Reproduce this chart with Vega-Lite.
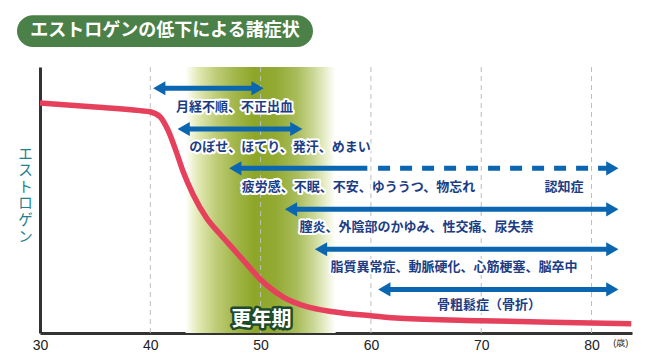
{
  "$schema": "https://vega.github.io/schema/vega-lite/v6.json",
  "width": 592,
  "height": 266,
  "autosize": {"type": "none"},
  "padding": {"left": 40, "top": 67, "right": 27, "bottom": 23},
  "background": "white",
  "config": {"view": {"stroke": null}, "font": "Noto Sans CJK JP"},
  "datasets": {
    "band": [{"start": 43.2, "end": 56.8, "low": 0, "high": 100}],
    "grid": [{"age": 40}, {"age": 50}, {"age": 60}, {"age": 70}, {"age": 80}],
    "curve": [
      {"age": 30, "level": 86.5},
      {"age": 35, "level": 85.0},
      {"age": 39.07, "level": 83.6},
      {"age": 39.97, "level": 83.2},
      {"age": 40.88, "level": 81.3},
      {"age": 41.6, "level": 76.3},
      {"age": 42.39, "level": 67.7},
      {"age": 42.99, "level": 60.5},
      {"age": 43.9, "level": 51.9},
      {"age": 45.11, "level": 43.2},
      {"age": 46.32, "level": 37.2},
      {"age": 47.52, "level": 31.6},
      {"age": 48.74, "level": 25.9},
      {"age": 49.95, "level": 20.3},
      {"age": 50.55, "level": 18.0},
      {"age": 52.06, "level": 13.5},
      {"age": 54.18, "level": 9.9},
      {"age": 56.59, "level": 8.0},
      {"age": 60.19, "level": 6.4},
      {"age": 62.64, "level": 5.5},
      {"age": 70, "level": 4.6},
      {"age": 80, "level": 3.8},
      {"age": 83.6, "level": 3.5}
    ],
    "arrows": [
      {"from": 40.27, "to": 50.27, "level": 92.0},
      {"from": 42.48, "to": 53.78, "level": 76.7},
      {"from": 47.16, "to": 82.43, "level": 61.9},
      {"from": 52.21, "to": 82.43, "level": 46.5},
      {"from": 54.93, "to": 82.43, "level": 31.5},
      {"from": 60.67, "to": 82.43, "level": 16.4}
    ],
    "solid": [
      {"from": 40.27, "to": 50.27, "level": 92.0},
      {"from": 42.48, "to": 53.78, "level": 76.7},
      {"from": 47.16, "to": 60.22, "level": 61.9},
      {"from": 52.21, "to": 82.43, "level": 46.5},
      {"from": 54.93, "to": 82.43, "level": 31.5},
      {"from": 60.67, "to": 82.43, "level": 16.4}
    ],
    "dashed": [{"from": 60.65, "to": 82.43, "level": 61.9}],
    "labels": [
      {"text": "月経不順、不正出血", "age": 47.63, "level": 85.1},
      {"text": "のぼせ、ほてり、発汗、めまい", "age": 51.76, "level": 70.0},
      {"text": "疲労感、不眠、不安、ゆううつ、物忘れ", "age": 58.88, "level": 55.0},
      {"text": "認知症", "age": 77.5, "level": 55.0},
      {"text": "膣炎、外陰部のかゆみ、性交痛、尿失禁", "age": 64.13, "level": 40.0},
      {"text": "脂質異常症、動脈硬化、心筋梗塞、脳卒中", "age": 67.53, "level": 24.9},
      {"text": "骨粗鬆症（骨折）", "age": 70.7, "level": 10.5}
    ],
    "period": [{"text": "更年期", "age": 50.08, "level": 5.0}],
    "badge": [{"text": "エストロゲンの低下による諸症状", "from": 27.91, "to": 54.75, "low": 107.5, "high": 119.5, "mid": 41.33, "center": 113.5}]
  },
  "layer": [
    {
      "data": {"name": "band"},
      "mark": {
        "type": "rect",
        "color": {
          "gradient": "linear", "x1": 0, "x2": 1, "y1": 0, "y2": 0,
          "stops": [
            {"offset": 0, "color": "#ffffff"},
            {"offset": 0.08, "color": "#e3eab6"},
            {"offset": 0.2, "color": "#bfcd78"},
            {"offset": 0.33, "color": "#a2b64a"},
            {"offset": 0.46, "color": "#8da628"},
            {"offset": 0.6, "color": "#92aa33"},
            {"offset": 0.74, "color": "#a8bc5a"},
            {"offset": 0.86, "color": "#cdd999"},
            {"offset": 0.95, "color": "#eef3d8"},
            {"offset": 1, "color": "#ffffff"}
          ]
        }
      },
      "encoding": {
        "x": {"field": "start", "type": "quantitative", "scale": {"domain": [30, 83.67], "nice": false, "zero": false},
          "axis": {
            "values": [30, 40, 50, 60, 70, 80, 82.6],
            "labelExpr": "datum.value > 81 ? '(歳)' : datum.label",
            "labelFontSize": {"condition": {"test": "datum.value > 81", "value": 9}, "value": 14},
            "labelFont": "Liberation Sans",
            "labelColor": "#222222",
            "labelFlush": false,
            "labelPadding": 5,
            "ticks": false,
            "grid": false,
            "domainColor": "#333333",
            "domainWidth": 3,
            "title": null
          }},
        "x2": {"field": "end"},
        "y": {"field": "low", "type": "quantitative", "scale": {"domain": [0, 100], "nice": false, "zero": false},
          "axis": {
            "labels": false,
            "ticks": false,
            "grid": false,
            "domainColor": "#333333",
            "domainWidth": 3,
            "title": ["エ", "ス", "ト", "ロ", "ゲ", "ン"],
            "titleAngle": 0,
            "titleX": -15,
            "titleY": 87,
            "titleAlign": "center",
            "titleBaseline": "middle",
            "titleFontSize": 14.5,
            "titleFontWeight": "normal",
            "titleLineHeight": 16.6,
            "titleColor": "#22808a"
          }},
        "y2": {"field": "high"}
      }
    },
    {
      "data": {"name": "grid"},
      "mark": {"type": "rule", "color": "#bdbdbd", "strokeWidth": 1, "strokeDash": [5, 4]},
      "encoding": {
        "x": {"field": "age", "type": "quantitative", "scale": {"domain": [30, 83.67], "nice": false, "zero": false}}
      }
    },
    {
      "data": {"name": "curve"},
      "mark": {"type": "line", "color": "#e5415c", "strokeWidth": 5.5, "interpolate": "monotone"},
      "encoding": {
        "x": {"field": "age", "type": "quantitative", "scale": {"domain": [30, 83.67], "nice": false, "zero": false}},
        "y": {"field": "level", "type": "quantitative", "scale": {"domain": [0, 100], "nice": false, "zero": false}}
      }
    },
    {
      "data": {"name": "solid"},
      "mark": {"type": "rule", "color": "#0b66b2", "strokeWidth": 5, "xOffset": 6, "x2Offset": -6},
      "encoding": {
        "x": {"field": "from", "type": "quantitative", "scale": {"domain": [30, 83.67], "nice": false, "zero": false}},
        "x2": {"field": "to"},
        "y": {"field": "level", "type": "quantitative", "scale": {"domain": [0, 100], "nice": false, "zero": false}}
      }
    },
    {
      "data": {"name": "dashed"},
      "mark": {"type": "rule", "color": "#0b66b2", "strokeWidth": 5, "strokeDash": [12, 10], "x2Offset": -6},
      "encoding": {
        "x": {"field": "from", "type": "quantitative", "scale": {"domain": [30, 83.67], "nice": false, "zero": false}},
        "x2": {"field": "to"},
        "y": {"field": "level", "type": "quantitative", "scale": {"domain": [0, 100], "nice": false, "zero": false}}
      }
    },
    {
      "data": {"name": "arrows"},
      "mark": {"type": "point", "shape": "triangle-left", "filled": true, "size": 200, "color": "#0b66b2", "opacity": 1, "xOffset": 6},
      "encoding": {
        "x": {"field": "from", "type": "quantitative", "scale": {"domain": [30, 83.67], "nice": false, "zero": false}},
        "y": {"field": "level", "type": "quantitative", "scale": {"domain": [0, 100], "nice": false, "zero": false}}
      }
    },
    {
      "data": {"name": "arrows"},
      "mark": {"type": "point", "shape": "triangle-right", "filled": true, "size": 200, "color": "#0b66b2", "opacity": 1, "xOffset": -6},
      "encoding": {
        "x": {"field": "to", "type": "quantitative", "scale": {"domain": [30, 83.67], "nice": false, "zero": false}},
        "y": {"field": "level", "type": "quantitative", "scale": {"domain": [0, 100], "nice": false, "zero": false}}
      }
    },
    {
      "data": {"name": "labels"},
      "mark": {"type": "text", "fontSize": 13, "fontWeight": "bold", "color": "#1c3d84", "stroke": "white", "strokeWidth": 4, "strokeJoin": "round", "align": "center", "baseline": "middle"},
      "encoding": {
        "x": {"field": "age", "type": "quantitative", "scale": {"domain": [30, 83.67], "nice": false, "zero": false}},
        "y": {"field": "level", "type": "quantitative", "scale": {"domain": [0, 100], "nice": false, "zero": false}},
        "text": {"field": "text"}
      }
    },
    {
      "data": {"name": "labels"},
      "mark": {"type": "text", "fontSize": 13, "fontWeight": "bold", "color": "#1c3d84", "align": "center", "baseline": "middle"},
      "encoding": {
        "x": {"field": "age", "type": "quantitative", "scale": {"domain": [30, 83.67], "nice": false, "zero": false}},
        "y": {"field": "level", "type": "quantitative", "scale": {"domain": [0, 100], "nice": false, "zero": false}},
        "text": {"field": "text"}
      }
    },
    {
      "data": {"name": "period"},
      "mark": {"type": "text", "fontSize": 20, "fontWeight": "bold", "color": "#1d4b2b", "stroke": "#1d4b2b", "strokeWidth": 5, "strokeJoin": "round", "align": "center", "baseline": "middle"},
      "encoding": {
        "x": {"field": "age", "type": "quantitative", "scale": {"domain": [30, 83.67], "nice": false, "zero": false}},
        "y": {"field": "level", "type": "quantitative", "scale": {"domain": [0, 100], "nice": false, "zero": false}},
        "text": {"field": "text"}
      }
    },
    {
      "data": {"name": "period"},
      "mark": {"type": "text", "fontSize": 20, "fontWeight": "bold", "color": "white", "align": "center", "baseline": "middle"},
      "encoding": {
        "x": {"field": "age", "type": "quantitative", "scale": {"domain": [30, 83.67], "nice": false, "zero": false}},
        "y": {"field": "level", "type": "quantitative", "scale": {"domain": [0, 100], "nice": false, "zero": false}},
        "text": {"field": "text"}
      }
    },
    {
      "data": {"name": "badge"},
      "mark": {"type": "rect", "color": "#4b8048", "cornerRadius": 16},
      "encoding": {
        "x": {"field": "from", "type": "quantitative", "scale": {"domain": [30, 83.67], "nice": false, "zero": false}},
        "x2": {"field": "to"},
        "y": {"field": "low", "type": "quantitative", "scale": {"domain": [0, 100], "nice": false, "zero": false}},
        "y2": {"field": "high"}
      }
    },
    {
      "data": {"name": "badge"},
      "mark": {"type": "text", "fontSize": 18, "fontWeight": "bold", "color": "white", "align": "center", "baseline": "middle"},
      "encoding": {
        "x": {"field": "mid", "type": "quantitative", "scale": {"domain": [30, 83.67], "nice": false, "zero": false}},
        "y": {"field": "center", "type": "quantitative", "scale": {"domain": [0, 100], "nice": false, "zero": false}},
        "text": {"field": "text"}
      }
    }
  ]
}
